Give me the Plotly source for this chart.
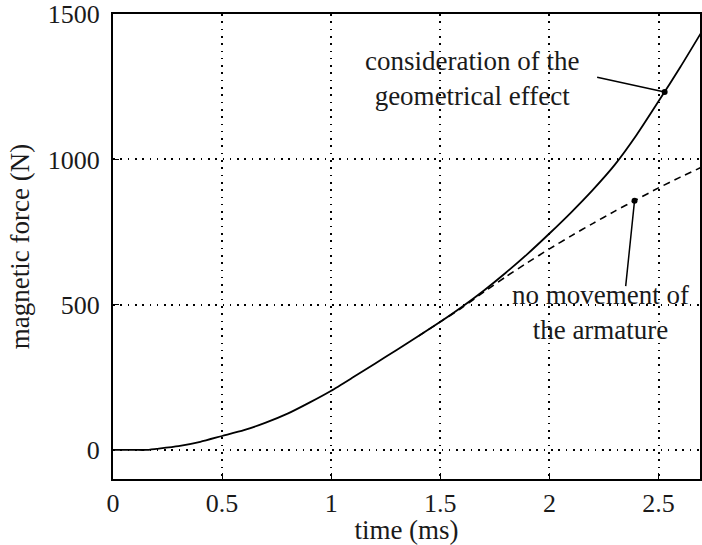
import plotly.graph_objects as go

# ---- data ----
time_ms = [0, 0.1, 0.15, 0.2, 0.3, 0.4, 0.5, 0.6, 0.7, 0.8, 0.9, 1.0, 1.1, 1.2, 1.3,
           1.4, 1.5, 1.6, 1.7, 1.8, 1.9, 2.0, 2.1, 2.2, 2.3, 2.4, 2.5, 2.6, 2.7]
force_geometrical = [0, 0, 0, 4, 13, 28, 48, 68, 94, 125, 163, 204, 250, 297, 344,
                     392, 441, 493, 549, 610, 675, 745, 818, 896, 982, 1085, 1200, 1318, 1442]
time_dashed = [1.4, 1.5, 1.6, 1.7, 1.8, 1.9, 2.0, 2.1, 2.2, 2.3, 2.4, 2.5, 2.6, 2.7]
force_no_movement = [392, 441, 490, 544, 596, 645, 692, 737, 780, 822, 862, 902, 939, 974]

x_ticks = [0, 0.5, 1, 1.5, 2, 2.5]
x_tick_labels = ["0", "0.5", "1", "1.5", "2", "2.5"]
y_ticks = [0, 500, 1000, 1500]
y_tick_labels = ["0", "500", "1000", "1500"]

label_geo = "consideration of the<br>geometrical effect"
label_nomove = "no movement of<br>the armature"
point_geo = (2.528, 1232)
point_nomove = (2.39, 858)
text_geo_pos = (1.644, 1278)
text_nomove_pos = (2.233, 474)

FONT = "Liberation Serif"
TXT = "#1a1a1a"

fig = go.Figure()
fig.add_trace(go.Scatter(x=time_dashed, y=force_no_movement, mode="lines",
                         line=dict(color="black", width=1.6, dash="7px,5px", shape="spline", smoothing=0.6),
                         showlegend=False, hoverinfo="skip"))
fig.add_trace(go.Scatter(x=time_ms, y=force_geometrical, mode="lines",
                         line=dict(color="black", width=1.8, shape="spline", smoothing=0.6),
                         showlegend=False, hoverinfo="skip"))
fig.add_trace(go.Scatter(x=[point_geo[0], point_nomove[0]], y=[point_geo[1], point_nomove[1]],
                         mode="markers", marker=dict(color="black", size=6),
                         showlegend=False, hoverinfo="skip"))

# arrows (no heads)
fig.add_annotation(x=point_geo[0], y=point_geo[1], ax=-69, ay=-15, text="",
                   showarrow=True, arrowhead=0, arrowwidth=1.5, arrowcolor="black")
fig.add_annotation(x=point_nomove[0], y=point_nomove[1], ax=-9, ay=87, text="",
                   showarrow=True, arrowhead=0, arrowwidth=1.5, arrowcolor="black")
# texts
fig.add_annotation(x=text_geo_pos[0], y=text_geo_pos[1], text=label_geo, showarrow=False,
                   font=dict(family=FONT, size=27, color=TXT), align="center")
fig.add_annotation(x=text_nomove_pos[0], y=text_nomove_pos[1], text=label_nomove, showarrow=False,
                   font=dict(family=FONT, size=27, color=TXT), align="center")

axis_common = dict(showline=True, linecolor="black", linewidth=2, mirror=True,
                   ticks="inside", ticklen=6, tickcolor="black", tickwidth=1,
                   showgrid=True, gridcolor="black", griddash="1.6px,5.7px", gridwidth=1.6,
                   zeroline=False, ticklabeloverflow="allow",
                   tickfont=dict(family=FONT, size=26, color=TXT))

fig.update_xaxes(range=[0, 2.69], tickvals=x_ticks, ticktext=x_tick_labels,
                 ticklabelstandoff=0,
                 title=dict(text="time (ms)", font=dict(family=FONT, size=27, color=TXT), standoff=0),
                 **axis_common)
fig.update_yaxes(range=[-100, 1500.5], tickvals=y_ticks, ticktext=y_tick_labels,
                 ticklabelstandoff=6,
                 title=dict(text="magnetic force (N)", font=dict(family=FONT, size=27, color=TXT), standoff=10),
                 **axis_common)

fig.update_layout(width=702, height=545, margin=dict(l=113, r=0, t=13, b=66),
                  plot_bgcolor="white", paper_bgcolor="white")

fig.write_html("out.html")
